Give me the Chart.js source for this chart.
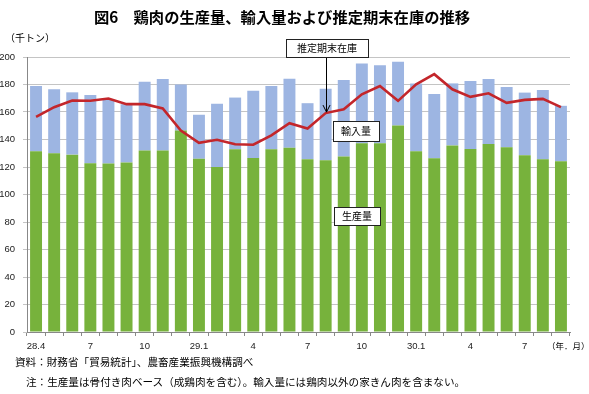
<!DOCTYPE html>
<html><head><meta charset="utf-8">
<script src="https://cdn.jsdelivr.net/npm/chart.js@4/dist/chart.umd.min.js"></script>
<style>
html,body{margin:0;padding:0;background:#fff;}
#wrap{position:relative;width:589px;height:394px;overflow:hidden;font-family:"Noto Sans CJK JP","Noto Sans",sans-serif;}
#c{position:absolute;left:0;top:0;}
.t{position:absolute;white-space:nowrap;color:#000;}
</style></head><body>
<div id="wrap">
<canvas id="c" width="589" height="394"></canvas>
<div class="t" style="left:0;width:564px;top:5px;text-align:center;font-size:15.3px;font-weight:bold;">図6　鶏肉の生産量、輸入量および推定期末在庫の推移</div>
<div class="t" style="left:5px;top:30px;font-size:10px;">（千トン）</div>
<div class="t" style="left:547px;top:339px;font-size:8.5px;">（年．月）</div>
<div class="t" style="left:15px;top:354px;font-size:10.6px;">資料：財務省「貿易統計」、農畜産業振興機構調べ</div>
<div class="t" style="left:26px;top:374px;font-size:10.6px;">注：生産量は骨付き肉ベース（成鶏肉を含む）。輸入量には鶏肉以外の家きん肉を含まない。</div>
</div>
<script>
const months = ['28.4','28.5','28.6','28.7','28.8','28.9','28.10','28.11','28.12','29.1','29.2','29.3','29.4','29.5','29.6','29.7','29.8','29.9','29.10','29.11','29.12','30.1','30.2','30.3','30.4','30.5','30.6','30.7','30.8','30.9'];
const tickLabels = ['28.4','','','7','','','10','','','29.1','','','4','','','7','','','10','','','30.1','','','4','','','7','',''];
const totals = [178.9,176.5,174.3,172.4,169,165.7,182,184,180,158,166,170.5,175.5,179,184.2,166.4,177,183.2,195.2,194,196.6,180.8,173.1,180.8,182.5,184,178.2,174.1,176,164.5];
const production = [131.5,130,129,122.8,122.5,123.3,132,132,146.5,126,120,132.9,126.6,132.9,134,125.7,125,127.6,137.2,137.2,150.2,131.4,126.4,135.7,133.1,136.7,134.3,128.6,125.7,124.2];
const stock = [156.4,163.5,168.3,168.2,169.8,165.7,165.7,162.6,146.5,137.6,139.8,136.5,136.2,143,151.8,148,159.2,162,172.9,178.9,168.1,180.1,187.5,176.5,171,173.6,166.7,168.8,169.5,163.5];
const imports = totals.map((t,i)=>+(t-production[i]).toFixed(1));

const annot = {
  id:'annot',
  afterDatasetsDraw(chart){
    const ctx = chart.ctx, xs = chart.scales.x, ys = chart.scales.y;
    ctx.save();
    function box(x,y,w,h,txt){
      ctx.fillStyle='#fff'; ctx.fillRect(x,y,w,h);
      ctx.strokeStyle='#222'; ctx.lineWidth=1; ctx.strokeRect(x+0.5,y+0.5,w,h);
      ctx.fillStyle='#000'; ctx.font='10px "Noto Sans CJK JP"';
      ctx.textAlign='center'; ctx.textBaseline='middle';
      ctx.fillText(txt,x+w/2,y+h/2+0.5);
    }
    const ax = Math.round(xs.getPixelForValue(16))+0.5;
    const ay = ys.getPixelForValue(stock[16])-1;
    ctx.strokeStyle='#000'; ctx.lineWidth=1;
    ctx.beginPath(); ctx.moveTo(ax,57); ctx.lineTo(ax,ay); ctx.stroke();
    ctx.beginPath(); ctx.moveTo(ax-3.5,ay-7); ctx.lineTo(ax,ay); ctx.lineTo(ax+3.5,ay-7); ctx.stroke();
    box(286,39,82,18,'推定期末在庫');
    box(333,121,46,20,'輸入量');
    box(334,207,46,18,'生産量');
    ctx.restore();
  }
};

new Chart(document.getElementById('c'),{
  type:'bar',
  data:{
    labels: months,
    datasets:[
      {type:'line',label:'推定期末在庫',data:stock,borderColor:'#C3262B',borderWidth:2.6,pointRadius:0,tension:0,fill:false,order:0},
      {label:'生産量',data:production,backgroundColor:'#77B23C',barPercentage:0.66,categoryPercentage:1,order:1,stack:'s'},
      {label:'輸入量',data:imports,backgroundColor:'#9DB5E2',barPercentage:0.66,categoryPercentage:1,order:1,stack:'s'}
    ]
  },
  options:{
    responsive:false,animation:false,
    layout:{padding:{top:57,right:19,bottom:32,left:0}},
    plugins:{legend:{display:false},tooltip:{enabled:false}},
    scales:{
      x:{stacked:true,
        afterFit(s){s.height=30;},
        grid:{drawOnChartArea:false,drawTicks:true,tickLength:4,offset:true,color:'#888'},
        border:{color:'#888',width:1},
        ticks:{autoSkip:false,maxRotation:0,padding:5,color:'#222',font:{family:'Liberation Sans',size:9.5},
          callback:(v,i)=>tickLabels[i]}
      },
      y:{stacked:true,min:0,max:200,
        afterFit(s){s.width=27;},
        grid:{color:'#C4C4C4',tickLength:4,lineWidth:1},
        border:{color:'#888',width:1},
        ticks:{stepSize:20,padding:8,color:'#222',font:{family:'Liberation Sans',size:9.5}}
      }
    }
  },
  plugins:[annot]
});
</script>
</body></html>
